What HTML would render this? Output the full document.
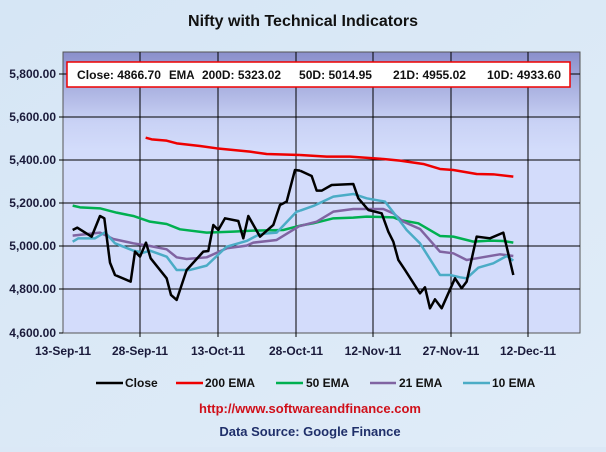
<!DOCTYPE html>
<html><head><style>
html,body{margin:0;padding:0;}
body{width:606px;height:447px;overflow:hidden;background:#dbe8f6;font-family:"Liberation Sans",sans-serif;}
</style></head><body>
<svg width="606" height="447" xmlns="http://www.w3.org/2000/svg" font-family="Liberation Sans, sans-serif" font-weight="bold">
<defs>
<linearGradient id="pg" x1="0" y1="0" x2="0" y2="1">
<stop offset="0" stop-color="#8a8fcb"/><stop offset="0.25" stop-color="#c9d2f5"/><stop offset="0.35" stop-color="#d3dcfb"/><stop offset="1" stop-color="#d3dcfb"/>
</linearGradient>
<linearGradient id="bg" x1="0" y1="0" x2="1" y2="1">
<stop offset="0" stop-color="#d6e6f5"/><stop offset="1" stop-color="#e0ecf8"/>
</linearGradient>
</defs>
<rect width="606" height="447" fill="url(#bg)"/>
<text x="303" y="26" text-anchor="middle" font-size="16" fill="#111">Nifty with Technical Indicators</text>
<rect x="63" y="52" width="517" height="281" fill="url(#pg)" stroke="#555" stroke-width="1"/>
<g stroke="#000" stroke-width="1">
<line x1="63" x2="580" y1="74" y2="74"/><line x1="63" x2="580" y1="117" y2="117"/><line x1="63" x2="580" y1="160" y2="160"/><line x1="63" x2="580" y1="203" y2="203"/><line x1="63" x2="580" y1="246" y2="246"/><line x1="63" x2="580" y1="289" y2="289"/>
<line x1="140" x2="140" y1="52" y2="337"/><line x1="218" x2="218" y1="52" y2="337"/><line x1="296" x2="296" y1="52" y2="337"/><line x1="373" x2="373" y1="52" y2="337"/><line x1="451" x2="451" y1="52" y2="337"/><line x1="528" x2="528" y1="52" y2="337"/>
<line x1="59" x2="63" y1="74" y2="74"/><line x1="59" x2="63" y1="117" y2="117"/><line x1="59" x2="63" y1="160" y2="160"/><line x1="59" x2="63" y1="203" y2="203"/><line x1="59" x2="63" y1="246" y2="246"/><line x1="59" x2="63" y1="289" y2="289"/><line x1="59" x2="63" y1="333" y2="333"/>
</g>
<g font-size="12" fill="#1a1a3a" text-anchor="end">
<text x="56" y="78">5,800.00</text><text x="56" y="121">5,600.00</text><text x="56" y="164">5,400.00</text><text x="56" y="207">5,200.00</text><text x="56" y="250">5,000.00</text><text x="56" y="293">4,800.00</text><text x="56" y="337">4,600.00</text>
</g>
<g font-size="12" fill="#1a1a3a" text-anchor="middle">
<text x="63" y="355">13-Sep-11</text><text x="140" y="355">28-Sep-11</text><text x="218" y="355">13-Oct-11</text><text x="296" y="355">28-Oct-11</text><text x="373" y="355">12-Nov-11</text><text x="451" y="355">27-Nov-11</text><text x="528" y="355">12-Dec-11</text>
</g>
<rect x="67" y="62" width="503" height="25" fill="#fff" stroke="#e00" stroke-width="1.5"/>
<g font-size="11.5" fill="#111">
<text x="77" y="79" textLength="84" lengthAdjust="spacingAndGlyphs">Close: 4866.70</text>
<text x="169" y="79">EMA</text>
<text x="202" y="79" textLength="79" lengthAdjust="spacingAndGlyphs">200D: 5323.02</text>
<text x="299" y="79" textLength="73" lengthAdjust="spacingAndGlyphs">50D: 5014.95</text>
<text x="393" y="79" textLength="73" lengthAdjust="spacingAndGlyphs">21D: 4955.02</text>
<text x="487" y="79" textLength="74" lengthAdjust="spacingAndGlyphs">10D: 4933.60</text>
</g>
<g fill="none" stroke-width="2.5" stroke-linejoin="round">
<g transform="translate(0,40) scale(0.3333)">
<polyline vector-effect="non-scaling-stroke" stroke="#ee0000" points="437,293 455,298 500,302 530,310 600,318 650,325 700,330 750,335 800,342 900,345"/>
<polyline vector-effect="non-scaling-stroke" stroke="#00b050" points="218,497 240,502 300,505 350,518 400,528 450,545 500,552 540,568 620,578 700,575 760,572 850,570 900,557"/>
<polyline vector-effect="non-scaling-stroke" stroke="#8064a2" points="218,587 300,578 340,597 400,610 450,618 500,628 530,652 560,657 620,652 680,625 740,617 760,608 830,600 900,557"/>
<polyline vector-effect="non-scaling-stroke" stroke="#4bacc6" points="218,605 235,595 285,595 315,577 345,610 400,632 430,638 450,632 500,650 530,690 570,690 620,677 680,620 740,603 780,582 830,578 890,515 900,512"/>
<polyline vector-effect="non-scaling-stroke" stroke="#000" points="218,570 232,563 275,590 300,528 313,535 330,668 345,705 392,725 405,635 420,650 438,608 452,655 500,715 513,765 530,780 560,690 610,635 625,633 640,555 655,570 675,535 715,543 730,595 745,528 780,590 820,555 840,495 860,485 885,390 900,392"/>
</g>
<g transform="translate(300,40) scale(0.3333)">
<polyline vector-effect="non-scaling-stroke" stroke="#ee0000" points="0,345 80,350 150,350 250,357 300,362 370,372 420,387 460,390 530,402 580,403 640,410"/>
<polyline vector-effect="non-scaling-stroke" stroke="#00b050" points="0,557 40,550 100,535 160,533 200,530 280,532 300,540 355,550 420,588 460,590 520,605 570,602 610,603 640,608"/>
<polyline vector-effect="non-scaling-stroke" stroke="#8064a2" points="0,558 50,545 100,515 160,507 250,507 280,520 310,545 360,567 420,635 460,640 500,660 530,655 600,643 640,648"/>
<polyline vector-effect="non-scaling-stroke" stroke="#4bacc6" points="0,512 40,498 100,470 160,462 200,475 255,485 290,530 320,570 360,610 420,705 450,705 480,712 500,715 535,683 580,670 620,648 640,662"/>
<polyline vector-effect="non-scaling-stroke" stroke="#000" points="0,392 35,408 50,452 65,452 95,435 160,432 175,475 205,510 245,520 265,575 280,605 295,660 315,690 360,760 375,742 390,805 405,778 425,805 465,715 485,745 500,725 530,590 570,595 610,578 640,705"/>
</g>
</g>
<g stroke-width="2.5">
<line x1="96" x2="123" y1="383" y2="383" stroke="#000"/><line x1="176" x2="203" y1="383" y2="383" stroke="#ee0000"/><line x1="276" x2="303" y1="383" y2="383" stroke="#00b050"/><line x1="370" x2="396" y1="383" y2="383" stroke="#8064a2"/><line x1="463" x2="490" y1="383" y2="383" stroke="#4bacc6"/>
</g>
<g font-size="12" fill="#111">
<text x="125" y="387">Close</text><text x="205" y="387">200 EMA</text><text x="306" y="387">50 EMA</text><text x="399" y="387">21 EMA</text><text x="492" y="387">10 EMA</text>
</g>
<text x="310" y="413" text-anchor="middle" font-size="13" fill="#d0101a">http://www.softwareandfinance.com</text>
<text x="310" y="436" text-anchor="middle" font-size="13" fill="#1f2f6a">Data Source: Google Finance</text>
</svg>
</body></html>
